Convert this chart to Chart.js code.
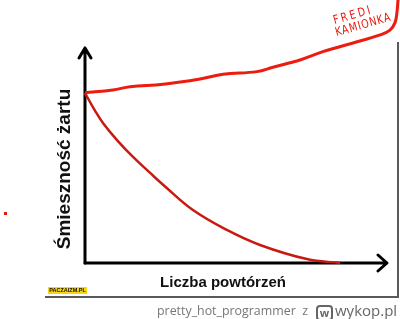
<!DOCTYPE html>
<html lang="pl">
<head>
<meta charset="utf-8">
<title>Śmieszność żartu</title>
<script src="https://cdn.jsdelivr.net/npm/chart.js@4/dist/chart.umd.min.js"></script>
<style>
    html, body { margin: 0; padding: 0; background: #fff; }
    #wrap { position: relative; width: 400px; height: 319px; overflow: hidden; }
    #chart { position: absolute; left: 0; top: 0; }
    .frame { position: absolute; left: 45px; top: 42px; width: 352px; height: 254px;
             border-right: 2px solid #5a5a5a; border-bottom: 2px solid #5a5a5a; }
    .xtitle { position: absolute; left: 123px; top: 272.5px; width: 200px; text-align: center;
              font: bold 15px/18px "Liberation Sans", Arial, sans-serif; color: #111; white-space: nowrap; }
    .note { position: absolute; color: #e8180c; font-family: "DejaVu Sans", sans-serif;
            font-size: 12px; line-height: 12px; transform-origin: left bottom; white-space: nowrap; }
    .logo { position: absolute; left: 48px; top: 287px; width: 39px; height: 7px; background: #f6d51a;
            font: bold 5.5px/7px "Liberation Sans", Arial, sans-serif; color: #111; text-align: center; }
    .speck { position: absolute; left: 4px; top: 212px; width: 3px; height: 3px; background: #e8180c; }
    .footer { position: absolute; left: 157px; top: 302px; font-family: "Open Sans", sans-serif;
              font-size: 12.4px; color: #777; white-space: nowrap; }
    .wykop { position: absolute; left: 316px; top: 302px; font-family: "Open Sans", sans-serif;
             font-size: 15px; color: #666; white-space: nowrap; line-height: 17px; }
    .wykop .icon { display: inline-block; width: 13px; height: 12px; border: 2px solid #666; border-radius: 4px;
                   font-size: 11px; font-weight: bold; line-height: 11px; text-align: center; vertical-align: -1px;
                   margin-right: 2px; }
</style>
</head>
<body>
<div id="wrap">
    <div class="frame"></div>
    <canvas id="chart" width="400" height="319"></canvas>
    <div class="xtitle">Liczba powtórzeń</div>
    <div class="note" style="left:335px; top:14px; letter-spacing:3px; transform: rotate(-16deg) scaleX(0.8);">FREDI</div>
    <div class="note" style="left:337px; top:26px; letter-spacing:1px; transform: rotate(-16deg) scaleX(0.8);">KAMIONKA</div>
    <div class="logo">PACZAIZM.PL</div>
    <div class="speck"></div>
    <div class="footer">pretty_hot_programmer&nbsp; z</div>
    <div class="wykop"><span class="icon">w</span>wykop.pl</div>
</div>

<script>
// Axis title (the x title is the HTML line under the chart)
const yTitle = 'Śmieszność żartu';

// "Kredi Kamionka" line - keeps rising with every repetition
const upperX = [0, 10.1, 16.3, 28.3, 41.7, 50, 62.3, 68.1, 74.3, 77.9, 86.2, 98.6, 106.9, 110.5, 112.3, 113, 113.4];
const upperY = [90.6, 92.0, 93.8, 95.1, 97.9, 100.4, 101.8, 104.1, 106.5, 108, 112.4, 117.7, 121.3, 123.9, 127.7, 133, 139.9];

// Normal joke - decays towards zero
const lowerX = [0, 3.6, 6.5, 11.6, 17.4, 23.6, 29.0, 39.1, 51.4, 63.4, 80.4, 92.4];
const lowerY = [90.4, 81.1, 74.5, 65.4, 56.4, 47.9, 40.7, 28.2, 17.6, 9.6, 2.1, 0];

// Where the drawn axes end (arrow tips), in data units
const xAxisEnd = 109.4;
const yAxisEnd = 114.4;

function toPoints(xs, ys) {
    return xs.map((x, i) => ({ x: x, y: ys[i] }));
}

// Draws black axes with open arrow heads from the scales' origin
const arrowAxes = {
    id: 'arrowAxes',
    beforeDatasetsDraw(chart) {
        const ctx = chart.ctx;
        const x = chart.scales.x;
        const y = chart.scales.y;
        const ox = x.getPixelForValue(0);
        const oy = y.getPixelForValue(0);
        const tx = x.getPixelForValue(xAxisEnd);
        const ty = y.getPixelForValue(yAxisEnd);

        ctx.save();
        ctx.strokeStyle = '#000';
        ctx.lineWidth = 3;
        ctx.lineCap = 'round';
        ctx.lineJoin = 'round';

        ctx.beginPath();
        ctx.moveTo(ox, oy);
        ctx.lineTo(ox, ty);
        ctx.moveTo(ox - 6, ty + 10);
        ctx.lineTo(ox, ty);
        ctx.lineTo(ox + 6, ty + 10);
        ctx.stroke();

        ctx.beginPath();
        ctx.moveTo(ox, oy);
        ctx.lineTo(tx, oy);
        ctx.moveTo(tx - 9, oy - 8);
        ctx.lineTo(tx, oy);
        ctx.lineTo(tx - 9, oy + 8);
        ctx.stroke();
        ctx.restore();
    }
};

const ctx = document.getElementById('chart').getContext('2d');

new Chart(ctx, {
    type: 'line',
    data: {
        datasets: [{
            label: 'Kredi Kamionka',
            data: toPoints(upperX, upperY),
            borderColor: '#ec1c0f',
            borderWidth: 3,
            tension: 0.4,
            pointRadius: 0,
            fill: false,
            clip: false
        }, {
            label: 'Zwykły żart',
            data: toPoints(lowerX, lowerY),
            borderColor: '#c91a10',
            borderWidth: 2.5,
            tension: 0.4,
            pointRadius: 0,
            fill: false,
            clip: false
        }]
    },
    options: {
        responsive: false,
        animation: false,
        devicePixelRatio: 1,
        layout: {
            padding: { left: 0, top: 75, right: 2, bottom: 56 }
        },
        plugins: {
            legend: { display: false },
            tooltip: { enabled: false }
        },
        scales: {
            x: {
                type: 'linear',
                min: 0,
                // no hard max, so the end of the rising line is not cut off
                suggestedMax: Math.max(...upperX),
                bounds: 'data',
                ticks: { display: false },
                grid: { display: false, drawTicks: false },
                border: { display: false }
            },
            y: {
                type: 'linear',
                min: 0,
                max: 100,
                ticks: { display: false },
                grid: { display: false, drawTicks: false },
                border: { display: false },
                title: {
                    display: true,
                    text: yTitle,
                    color: '#111',
                    font: { family: 'Liberation Sans', size: 19, weight: 'bold', lineHeight: 1.2 },
                    padding: { top: 53.1, bottom: 9.1 }
                }
            }
        }
    },
    plugins: [arrowAxes]
});
</script>
</body>
</html>
